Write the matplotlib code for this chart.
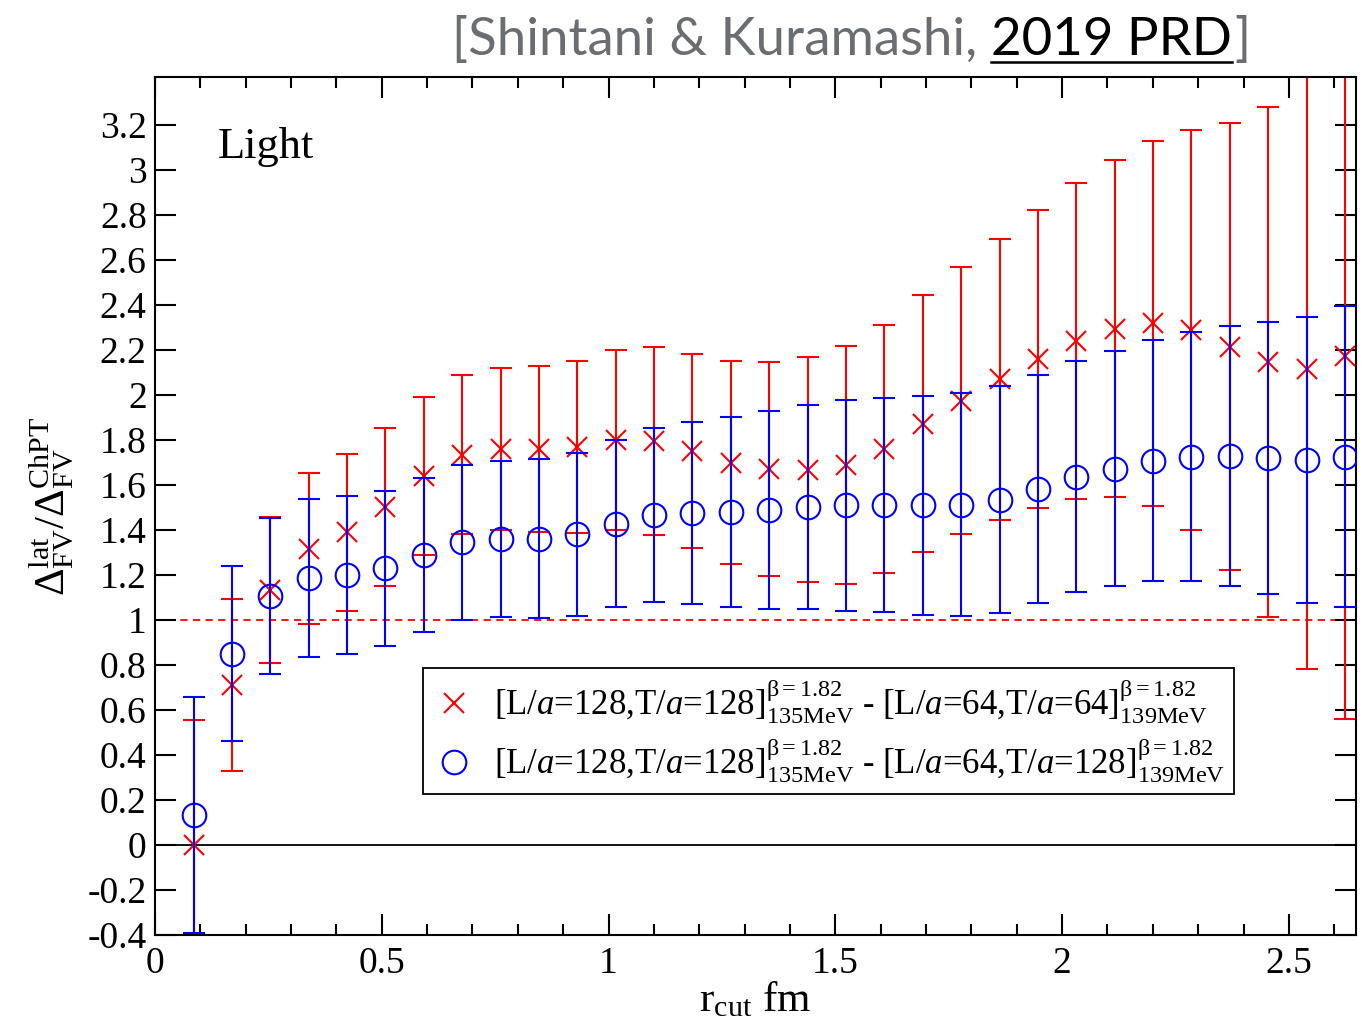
import numpy as np
import matplotlib
matplotlib.use("Agg")
import matplotlib.pyplot as plt
from matplotlib.lines import Line2D
from matplotlib.ticker import MultipleLocator, FixedLocator, FuncFormatter

plt.rcParams['font.family'] = ['Liberation Serif', 'DejaVu Serif']
plt.rcParams['mathtext.fontset'] = 'custom'
plt.rcParams['mathtext.rm'] = 'Liberation Serif'
plt.rcParams['mathtext.it'] = 'Liberation Serif:italic'
plt.rcParams['mathtext.bf'] = 'Liberation Serif:bold'

# r_cut [fm]
r_cut = [0.085, 0.169, 0.254, 0.339, 0.423, 0.508, 0.593, 0.677, 0.762, 0.847,
         0.931, 1.016, 1.100, 1.185, 1.270, 1.354, 1.439, 1.524, 1.608, 1.693,
         1.777, 1.862, 1.947, 2.031, 2.116, 2.201, 2.285, 2.370, 2.455, 2.539, 2.624]

# L/a=128,T/a=128 - L/a=64,T/a=64  (red crosses)
red_val = [0.00, 0.712, 1.132, 1.317, 1.389, 1.50, 1.64, 1.735, 1.76, 1.76,
           1.768, 1.80, 1.796, 1.752, 1.698, 1.67, 1.667, 1.689, 1.76, 1.873,
           1.975, 2.07, 2.16, 2.238, 2.295, 2.318, 2.288, 2.215, 2.146, 2.114, 2.175]
red_err = [0.557, 0.383, 0.325, 0.336, 0.348, 0.351, 0.35, 0.355, 0.36, 0.367,
           0.382, 0.40, 0.417, 0.432, 0.451, 0.475, 0.50, 0.528, 0.55, 0.572,
           0.592, 0.625, 0.661, 0.702, 0.75, 0.81, 0.889, 0.995, 1.135, 1.332, 1.616]

# L/a=128,T/a=128 - L/a=64,T/a=128  (blue circles)
blue_val = [0.133, 0.851, 1.107, 1.188, 1.20, 1.23, 1.29, 1.345, 1.36, 1.362,
            1.38, 1.428, 1.466, 1.475, 1.478, 1.488, 1.503, 1.51, 1.511, 1.51,
            1.513, 1.534, 1.581, 1.636, 1.673, 1.708, 1.726, 1.727, 1.72, 1.711, 1.725]
blue_err = [0.525, 0.389, 0.348, 0.351, 0.35, 0.344, 0.343, 0.343, 0.346, 0.352,
            0.362, 0.372, 0.387, 0.404, 0.422, 0.439, 0.454, 0.468, 0.477, 0.486,
            0.495, 0.504, 0.507, 0.513, 0.524, 0.537, 0.555, 0.578, 0.605, 0.635, 0.669]

y_ticks = [-0.4, -0.2, 0, 0.2, 0.4, 0.6, 0.8, 1, 1.2, 1.4, 1.6, 1.8,
           2, 2.2, 2.4, 2.6, 2.8, 3, 3.2]

W, H = 1362, 1027
fig = plt.figure(figsize=(W/100, H/100), dpi=100)
ax = fig.add_axes([155/W, 1-935/H, (1356-155)/W, (935-77)/H])

ax.axhline(0, color="black", lw=1.3, zorder=1)
ax.axhline(1, color="red", lw=1.3, ls=(0, (4, 3)), zorder=1)

ax.errorbar(r_cut, red_val, yerr=red_err, fmt="x", color="red", ms=14, mew=1.5,
            elinewidth=1.5, capsize=8, capthick=1.5, zorder=2)
ax.errorbar(r_cut, blue_val, yerr=blue_err, fmt="o", color="blue", mfc="none", ms=17,
            mew=1.5, elinewidth=1.5, capsize=8, capthick=1.5, zorder=3)

ax.set_xlim(0, 2.648)
ax.set_ylim(-0.4, 3.413)
ax.xaxis.set_major_locator(MultipleLocator(0.5))
ax.xaxis.set_minor_locator(MultipleLocator(0.1))
ax.yaxis.set_major_locator(FixedLocator(y_ticks))
fmt = FuncFormatter(lambda v, p: f"{round(v, 2):g}")
ax.xaxis.set_major_formatter(fmt)
ax.yaxis.set_major_formatter(fmt)
ax.tick_params(which="both", direction="in", top=True, right=True, width=1.5, labelsize=27)
ax.tick_params(which="major", length=15)
ax.tick_params(which="minor", length=8)
ax.tick_params(axis="x", pad=8)
ax.tick_params(axis="y", pad=6)
for s in ax.spines.values():
    s.set_linewidth(1.5)

ax.set_xlabel(r"r$_{\rm cut}$ fm", fontsize=31, labelpad=0)
ax.set_ylabel(r"$\Delta^{\rm lat}_{\rm FV}/\Delta^{\rm ChPT}_{\rm FV}$", fontsize=31, labelpad=8)
ax.text(0.052, 0.918, "Light", transform=ax.transAxes, fontsize=32, va="center")

sup = r"{}^{\mathrm{β{=}1.82}}"
lab1 = (r"[L/$a$=128,T/$a$=128]$" + sup + r"_{\rm 135MeV}$ - "
        r"[L/$a$=64,T/$a$=64]$" + sup + r"_{\rm 139MeV}$")
lab2 = (r"[L/$a$=128,T/$a$=128]$" + sup + r"_{\rm 135MeV}$ - "
        r"[L/$a$=64,T/$a$=128]$" + sup + r"_{\rm 139MeV}$")
handles = [Line2D([], [], ls="none", marker="x", color="red", ms=14, mew=1.5),
           Line2D([], [], ls="none", marker="o", color="blue", mfc="none", ms=17, mew=1.5)]
leg = ax.legend(handles, [lab1, lab2], loc="upper left", bbox_to_anchor=(0.2232, 0.3112),
                borderaxespad=0, fontsize=25, fancybox=False, framealpha=1,
                edgecolor="black", borderpad=0.28, handletextpad=0.55, labelspacing=0.3,
                handlelength=1.2)
leg.get_frame().set_linewidth(1.3)

# citation header
ty = 1 - 55/H
grey = "#6a6e72"
t1 = fig.text(452/W, ty, "[Shintani & Kuramashi,", fontsize=38, color=grey,
              family=["Lato", "DejaVu Sans"], va="baseline")
fig.canvas.draw()
bb1 = t1.get_window_extent()
t2 = fig.text((bb1.x1 + 14)/W, ty, "2019 PRD", fontsize=38, color="black",
              family=["Lato", "DejaVu Sans"], va="baseline")
fig.canvas.draw()
bb2 = t2.get_window_extent()
t3 = fig.text((bb2.x1 + 2)/W, ty, "]", fontsize=38, color=grey,
              family=["Lato", "DejaVu Sans"], va="baseline")
uy = ty - 7/H
fig.add_artist(Line2D([bb2.x0/W, bb2.x1/W], [uy, uy], color="black", lw=1.8,
                      transform=fig.transFigure))

fig.savefig("out.png", dpi=100)
